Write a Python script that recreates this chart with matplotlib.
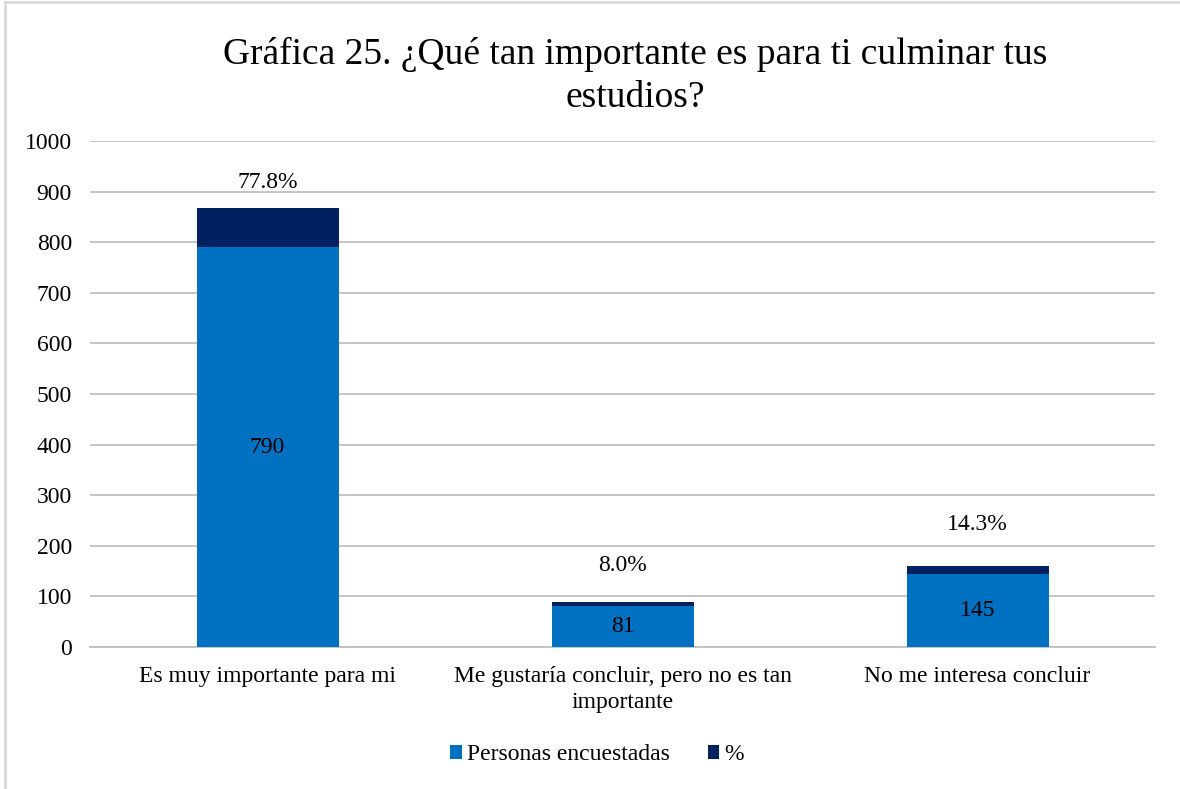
import numpy as np
import matplotlib
matplotlib.use("Agg")
from matplotlib import pyplot as plt
from matplotlib.lines import Line2D

# datos de la gráfica
categorias = ["Es muy importante para mi",
              "Me gustaría concluir, pero no es tan\nimportante",
              "No me interesa concluir"]
personas = [790, 81, 145]
porcentaje = [77.8, 8.0, 14.3]
etiquetas_pct = ["77.8%", "8.0%", "14.3%"]
desplaz_pct = [18, 26, 30]  # separación de la etiqueta % (puntos)

plt.rcParams['font.family'] = ['Liberation Serif', 'DejaVu Serif']

fig = plt.figure(figsize=(11.8, 7.89), dpi=100)
ax = fig.add_axes([90 / 1180, 1 - 647 / 789, 1065 / 1180, 506 / 789])

x = np.arange(len(categorias))
azul = '#0070C0'
marino = '#002060'
ax.bar(x, personas, width=0.4, color=azul, label='Personas encuestadas', zorder=3)
ax.bar(x, porcentaje, width=0.4, bottom=personas, color=marino, label='%', zorder=3)

# etiquetas
for i in range(len(x)):
    ax.text(x[i], personas[i] / 2, str(personas[i]), ha='center', va='center',
            fontsize=17, color='black', zorder=4)
    ax.annotate(etiquetas_pct[i], (x[i], personas[i] + porcentaje[i]),
                xytext=(0, desplaz_pct[i]), textcoords='offset points',
                ha='center', va='center', fontsize=17, color='black')

ax.set_xlim(-0.5, 2.5)
ax.set_ylim(0, 1000)
ax.set_yticks(range(0, 1001, 100))
ax.set_xticks(x)
ax.set_xticklabels(categorias, fontsize=17, linespacing=1.3)
ax.tick_params(axis='y', labelsize=17, length=0, pad=13)
ax.tick_params(axis='x', length=0, pad=14)
ax.grid(axis='y', color='#BFBFBF', linewidth=1.3, zorder=0)
for s in ['top', 'right', 'left']:
    ax.spines[s].set_visible(False)
ax.spines['bottom'].set_color('#BFBFBF')
ax.spines['bottom'].set_linewidth(1.3)

fig.text(635 / 1180, 1 - 76 / 789,
         "Gráfica 25. ¿Qué tan importante es para ti culminar tus\nestudios?",
         ha='center', va='center', fontsize=27, linespacing=1.32)

ax.legend(loc='center', bbox_to_anchor=(597 / 1180, 1 - 755 / 789),
          bbox_transform=fig.transFigure, ncol=2, frameon=False, fontsize=17,
          handlelength=0.5, handleheight=0.5, handletextpad=0.2, columnspacing=1.6)

# marco del gráfico
fig.add_artist(Line2D([5 / 1180, 1], [1 - 2 / 789, 1 - 2 / 789], transform=fig.transFigure,
                      color='#D9D9D9', linewidth=2))
fig.add_artist(Line2D([5 / 1180, 5 / 1180], [0, 1 - 2 / 789], transform=fig.transFigure,
                      color='#D9D9D9', linewidth=2))

fig.savefig('out.png', dpi=100)
